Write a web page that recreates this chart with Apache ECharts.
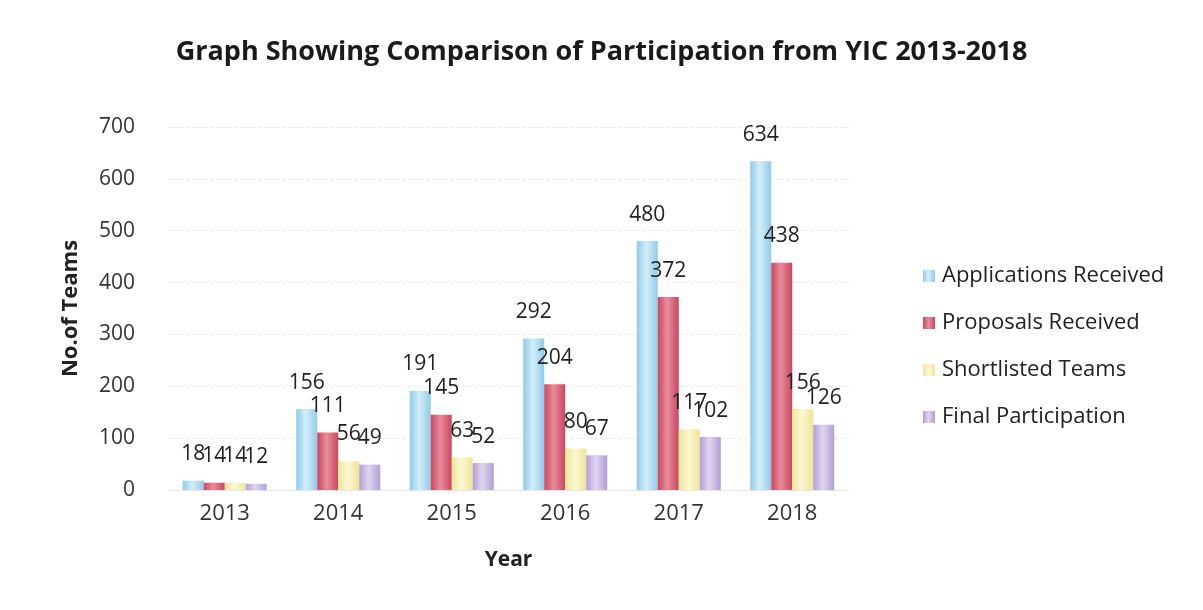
<!DOCTYPE html>
<html>
<head>
<meta charset="utf-8">
<script src="https://cdn.jsdelivr.net/npm/echarts@6/dist/echarts.min.js"></script>
<style>
  html, body { margin: 0; padding: 0; background: #fff; }
  #chart { width: 1203px; height: 610px; }
</style>
</head>
<body>
<div id="chart"></div>
<script>
const years = ['2013', '2014', '2015', '2016', '2017', '2018'];
const applications = [18, 156, 191, 292, 480, 634];
const proposals = [14, 111, 145, 204, 372, 438];
const shortlisted = [14, 56, 63, 80, 117, 156];
const finalParticipation = [12, 49, 52, 67, 102, 126];
const yTicks = [0, 100, 200, 300, 400, 500, 600, 700];

const FONT = '"Open Sans", Lato, sans-serif';

// cylinder-ish look like the 3D bars in the scan
const cyl = (edge, mid) => ({
  type: 'linear', x: 0, y: 0, x2: 1, y2: 0,
  colorStops: [
    { offset: 0, color: edge },
    { offset: 0.45, color: mid },
    { offset: 1, color: edge }
  ]
});

const makeSeries = (name, data, edge, mid) => ({
  name: name,
  type: 'bar',
  data: data,
  barWidth: 21,
  barGap: '0%',
  itemStyle: { color: cyl(edge, mid) },
  label: {
    show: true,
    position: 'top',
    distance: 16,
    fontFamily: FONT,
    fontSize: 21,
    color: '#222'
  }
});

const myChart = echarts.init(document.getElementById('chart'));

const option = {
  backgroundColor: '#fff',
  animation: false,
  title: {
    text: 'Graph Showing Comparison of Participation from YIC 2013-2018',
    left: 'center',
    top: 34,
    textStyle: { fontFamily: FONT, fontSize: 27, fontWeight: 'bold', color: '#1a1a1a' }
  },
  legend: {
    orient: 'vertical',
    left: 918,
    top: 260,
    itemWidth: 12,
    itemHeight: 12,
    itemGap: 25,
    icon: 'rect',
    textStyle: { fontFamily: FONT, fontSize: 22, color: '#222', padding: [0, 0, 0, 2] }
  },
  grid: { left: 168, right: 354, top: 127, bottom: 120 },
  xAxis: {
    type: 'category',
    data: years,
    name: 'Year',
    nameLocation: 'middle',
    nameGap: 60,
    nameTextStyle: { fontFamily: FONT, fontSize: 21, fontWeight: 'bold', color: '#222' },
    axisLine: { lineStyle: { color: '#e6e6e6' } },
    axisTick: { show: false },
    axisLabel: { fontFamily: FONT, fontSize: 22, color: '#333', margin: 13 }
  },
  yAxis: {
    type: 'value',
    min: yTicks[0],
    max: yTicks[yTicks.length - 1],
    interval: 100,
    name: 'No.of Teams',
    nameLocation: 'middle',
    nameGap: 86,
    nameTextStyle: { fontFamily: FONT, fontSize: 22, fontWeight: 'bold', color: '#222' },
    axisLine: { show: false },
    axisTick: { show: false },
    axisLabel: { fontFamily: FONT, fontSize: 21, color: '#333', margin: 33 },
    splitLine: { lineStyle: { color: '#ececec', type: 'dashed' } }
  },
  series: [
    makeSeries('Applications Received', applications, '#8fcbea', '#d4eef9'),
    makeSeries('Proposals Received', proposals, '#c9475f', '#e88c9b'),
    makeSeries('Shortlisted Teams', shortlisted, '#efe596', '#fbf8d2'),
    makeSeries('Final Participation', finalParticipation, '#b29ed4', '#e0d6f0')
  ]
};

myChart.setOption(option);
</script>
</body>
</html>
